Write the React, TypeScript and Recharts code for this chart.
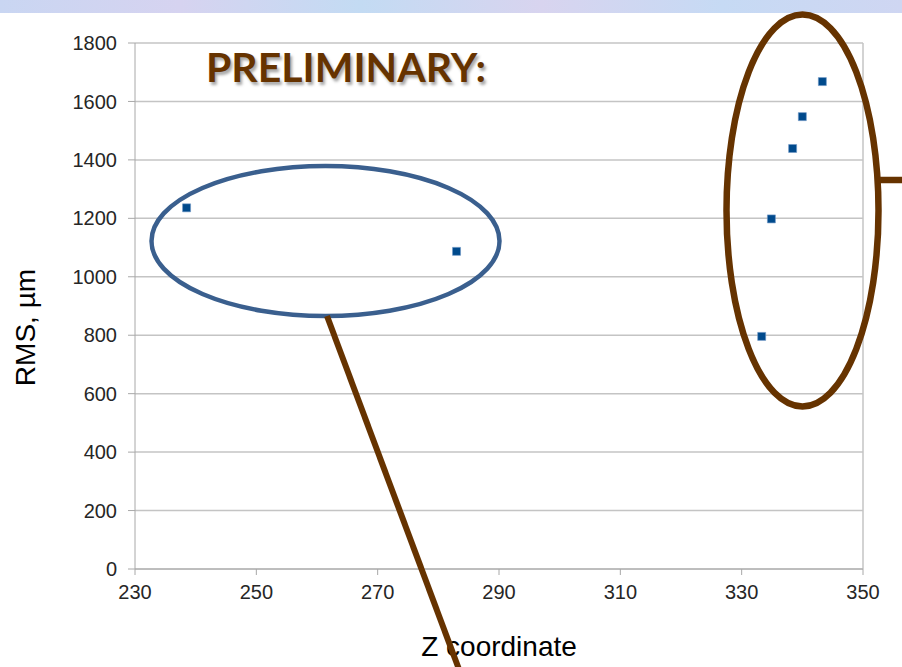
import { CartesianGrid, ReferenceLine, Scatter, ScatterChart, XAxis, YAxis } from 'recharts';

// Z coordinate / RMS (µm)
const Z_VALUES = [238.5, 283.0, 333.3, 334.9, 338.4, 340.0, 343.3];
const RMS_VALUES = [1236, 1087, 796, 1198, 1439, 1548, 1668];

const X_TICKS = [230, 250, 270, 290, 310, 330, 350];
const Y_TICKS = [0, 200, 400, 600, 800, 1000, 1200, 1400, 1600, 1800];

const points = Z_VALUES.map((z, i) => ({ z, rms: RMS_VALUES[i] }));

const W = 902;
const H = 667;
const FONT = 'Liberation Sans, Arial, sans-serif';

export default function App() {
    return (
        <div style={{ position: 'absolute', left: 0, top: 0, width: W, height: H, background: '#fff', overflow: 'hidden' }}>
            <div
                style={{
                    position: 'absolute', left: 0, top: 0, width: W, height: 13,
                    background: 'linear-gradient(90deg, #c9d6f2 0%, #d6d3f0 20%, #c3dbf3 40%, #d8d4ef 60%, #c6daf4 80%, #cfd6f2 100%)',
                }}
            />
            <ScatterChart width={W} height={H} margin={{ top: 43, right: 39, bottom: 68, left: 75 }}>
                <CartesianGrid vertical={false} stroke="#c4c4c4" strokeWidth={1.5} />
                <XAxis
                    type="number"
                    dataKey="z"
                    domain={[230, 350]}
                    ticks={X_TICKS}
                    height={30}
                    tickSize={6}
                    tickMargin={10}
                    stroke="#a8a8a8"
                    tick={{ fill: '#262626', fontSize: 20, fontFamily: FONT }}
                    label={{ value: 'Z coordinate', position: 'bottom', offset: 37, fill: '#000', fontSize: 28, fontFamily: FONT }}
                />
                <YAxis
                    type="number"
                    dataKey="rms"
                    domain={[0, 1800]}
                    ticks={Y_TICKS}
                    width={60}
                    tickSize={7}
                    tickMargin={11}
                    stroke="#a8a8a8"
                    tick={{ fill: '#262626', fontSize: 20, fontFamily: FONT }}
                />
                <ReferenceLine x={350} stroke="#c4c4c4" strokeWidth={1.5} />
                <Scatter
                    data={points}
                    shape="square"
                    fill="#004a8c"
                    stroke="#6f97c6"
                    strokeWidth={0.6}
                    size={121}
                    isAnimationActive={false}
                />
            </ScatterChart>
            <svg width={W} height={H} style={{ position: 'absolute', left: 0, top: 0, pointerEvents: 'none' }}>
                <text
                    x={35}
                    y={327.5}
                    transform="rotate(-90 35 327.5)"
                    textAnchor="middle"
                    fontSize={28}
                    fontFamily={FONT}
                    fill="#000"
                >
                    RMS, µm
                </text>
                <ellipse cx={325.5} cy={241} rx={174} ry={75} fill="none" stroke="#3a5f8e" strokeWidth={4.5} />
                <line x1={327} y1={316} x2={460} y2={672} stroke="#663300" strokeWidth={6} />
                <ellipse cx={802.5} cy={210.5} rx={76} ry={196} fill="none" stroke="#663300" strokeWidth={6.5} />
                <line x1={878} y1={180} x2={905} y2={180} stroke="#663300" strokeWidth={6.5} />
            </svg>
            <div
                style={{
                    position: 'absolute', left: 196, top: 44.5, width: 300, textAlign: 'center',
                    fontFamily: 'Lato, "Open Sans", sans-serif', fontWeight: 700, fontSize: 41,
                    color: '#663300', textShadow: '2px 3px 3px rgba(0,0,0,0.35)', lineHeight: '44px',
                    whiteSpace: 'nowrap',
                }}
            >
                PRELIMINARY:
            </div>
        </div>
    );
}
